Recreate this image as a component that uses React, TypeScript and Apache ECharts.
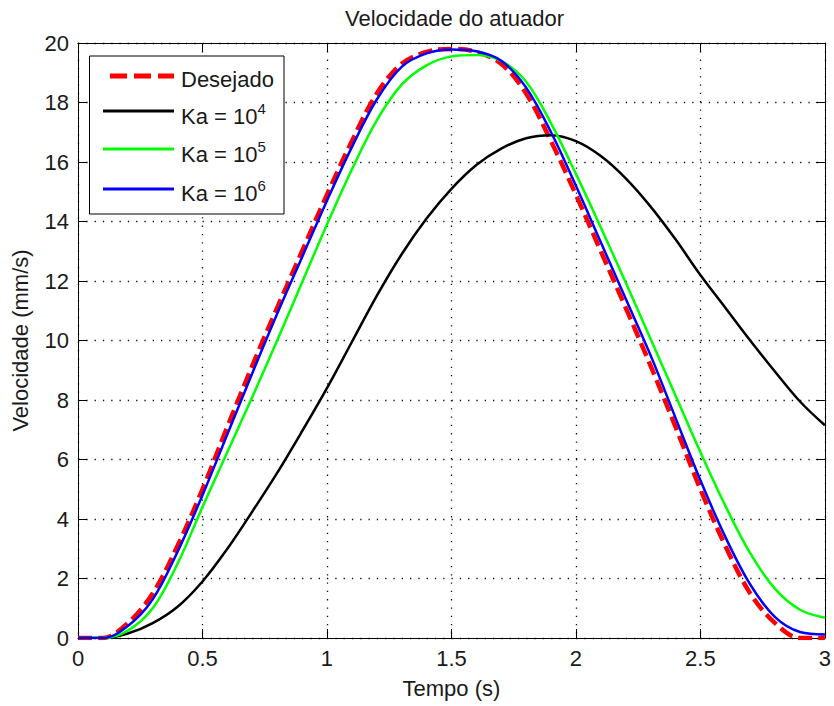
import React, { useEffect, useRef } from "react";
import * as echarts from "echarts";

const FONT = "Liberation Sans";

const tempo = [0, 0.1, 0.2, 0.3, 0.4, 0.5, 0.6, 0.7, 0.8, 0.9, 1.0, 1.1, 1.2, 1.3, 1.4, 1.5, 1.6, 1.7, 1.8, 1.9, 2.0, 2.1, 2.2, 2.3, 2.4, 2.5, 2.6, 2.7, 2.8, 2.9, 3.0];

const desejado = [0, 0, 0.5, 1.5, 3.1, 5.0, 7.1, 9.15, 11.1, 13.0, 14.9, 16.7, 18.3, 19.3, 19.7, 19.8, 19.7, 19.3, 18.3, 16.7, 14.9, 13.0, 11.1, 9.15, 7.1, 5.0, 3.1, 1.5, 0.5, 0, 0];
const ka4 = [0, 0, 0.15, 0.5, 1.05, 1.9, 3.0, 4.25, 5.55, 6.95, 8.4, 9.95, 11.5, 12.9, 14.1, 15.1, 15.9, 16.45, 16.8, 16.9, 16.7, 16.2, 15.45, 14.5, 13.4, 12.2, 11.1, 10.0, 8.95, 7.95, 7.15];
const ka5 = [0, 0, 0.25, 1.0, 2.5, 4.4, 6.25, 8.1, 10.0, 11.95, 13.9, 15.75, 17.4, 18.6, 19.25, 19.55, 19.6, 19.4, 18.7, 17.3, 15.6, 13.8, 11.95, 10.05, 8.15, 6.25, 4.45, 2.85, 1.65, 0.95, 0.68];
const ka6 = [0, 0, 0.4, 1.3, 2.9, 4.8, 6.85, 8.9, 10.9, 12.8, 14.7, 16.5, 18.1, 19.2, 19.65, 19.78, 19.72, 19.4, 18.5, 17.0, 15.2, 13.3, 11.4, 9.5, 7.4, 5.3, 3.4, 1.8, 0.7, 0.2, 0.12];

const legendNames = ["Desejado", "Ka = 10", "Ka = 10", "Ka = 10"];
const legendSup = ["", "4", "5", "6"];
const seriesColors = ["#ff0000", "#000000", "#00ff00", "#0000ff"];

const title = "Velocidade do atuador";
const xName = "Tempo (s)";
const yName = "Velocidade (mm/s)";

const pairs = (ys: number[]) => tempo.map((t, i) => [t, ys[i]]);

export default function App() {
  const ref = useRef<HTMLDivElement>(null);
  useEffect(() => {
    if (!ref.current) return;
    const chart = echarts.init(ref.current, null, { renderer: "svg" });

    const gridLine = { show: true, lineStyle: { color: "#111", width: 1.3, type: [1.3, 7] as any } };
    const axLine = { show: true, onZero: false, lineStyle: { color: "#000", width: 1 } };
    const axTick = { show: true, inside: true, length: 9, lineStyle: { color: "#000", width: 1 } };
    const lblStyle = { color: "#1a1a1a", fontSize: 22, fontFamily: FONT };

    const rowLineY = [76, 111, 149, 189];
    const rowTextY = [77, 116, 154, 193];
    const legendEls: any[] = [
      {
        type: "rect",
        shape: { x: 89.5, y: 56, width: 194.5, height: 158 },
        style: { fill: "#fff", stroke: "#000", lineWidth: 1 },
        z: 100,
      },
    ];
    legendNames.forEach((nm, i) => {
      legendEls.push({
        type: "line",
        shape: { x1: i === 0 ? 110 : 103, y1: rowLineY[i], x2: 174, y2: rowLineY[i] },
        style: {
          stroke: seriesColors[i],
          lineWidth: i === 0 ? 5 : 3,
          lineDash: i === 0 ? [17, 7] : null,
        },
        z: 101,
      });
      legendEls.push({
        type: "text",
        x: 181,
        y: rowTextY[i] - (legendSup[i] ? 2 : 0),
        style: {
          text: legendSup[i] ? `{b|${nm}}{s|${legendSup[i]}}` : `{b|${nm}}`,
          rich: {
            b: { fontSize: 22, fontFamily: FONT, fill: "#1a1a1a", lineHeight: 26, verticalAlign: "bottom" },
            s: { fontSize: 15, fontFamily: FONT, fill: "#1a1a1a", lineHeight: 15, verticalAlign: "top" },
          },
          verticalAlign: "middle",
          align: "left",
        },
        z: 101,
      });
    });

    const mk = (name: string, ys: number[], color: string, width: number, dash?: number[]) => ({
      type: "line",
      name,
      data: pairs(ys),
      smooth: 0.35,
      symbol: "none",
      lineStyle: { color, width, type: dash ? (dash as any) : "solid" },
      itemStyle: { color },
      xAxisIndex: 0,
      yAxisIndex: 0,
    });

    chart.setOption({
      animation: false,
      backgroundColor: "#fff",
      textStyle: { fontFamily: FONT },
      title: {
        text: title,
        left: 454.5,
        top: 7,
        padding: 0,
        textAlign: "center",
        textStyle: { fontSize: 22, fontWeight: "normal", color: "#1a1a1a", fontFamily: FONT },
      },
      grid: { left: 78, right: 3, top: 43, bottom: 68, containLabel: false },
      xAxis: [
        {
          type: "value",
          min: 0,
          max: 3,
          interval: 0.5,
          position: "bottom",
          axisLine: axLine,
          axisTick: axTick,
          splitLine: gridLine,
          axisLabel: { ...lblStyle, margin: 9 },
          name: xName,
          nameLocation: "middle",
          nameGap: 39,
          nameTextStyle: { fontSize: 22, color: "#1a1a1a", fontFamily: FONT },
        },
        {
          type: "value",
          min: 0,
          max: 3,
          interval: 0.5,
          position: "top",
          axisLine: axLine,
          axisTick: axTick,
          splitLine: { show: false },
          axisLabel: { show: false },
        },
      ],
      yAxis: [
        {
          type: "value",
          min: 0,
          max: 20,
          interval: 2,
          position: "left",
          axisLine: axLine,
          axisTick: axTick,
          splitLine: gridLine,
          axisLabel: { ...lblStyle, margin: 9 },
          name: yName,
          nameLocation: "middle",
          nameGap: 47,
          nameRotate: 90,
          nameTextStyle: { fontSize: 22, color: "#1a1a1a", fontFamily: FONT },
        },
        {
          type: "value",
          min: 0,
          max: 20,
          interval: 2,
          position: "right",
          axisLine: axLine,
          axisTick: axTick,
          splitLine: { show: false },
          axisLabel: { show: false },
        },
      ],
      series: [
        mk("Desejado", desejado, seriesColors[0], 4.5, [14, 6]),
        mk("Ka = 10^4", ka4, seriesColors[1], 2.5),
        mk("Ka = 10^5", ka5, seriesColors[2], 2.5),
        mk("Ka = 10^6", ka6, seriesColors[3], 2.5),
      ],
      graphic: legendEls,
    });

    return () => chart.dispose();
  }, []);

  return (
    <div
      ref={ref}
      style={{ position: "fixed", left: 0, top: 0, width: 834, height: 706, background: "#fff" }}
    />
  );
}
